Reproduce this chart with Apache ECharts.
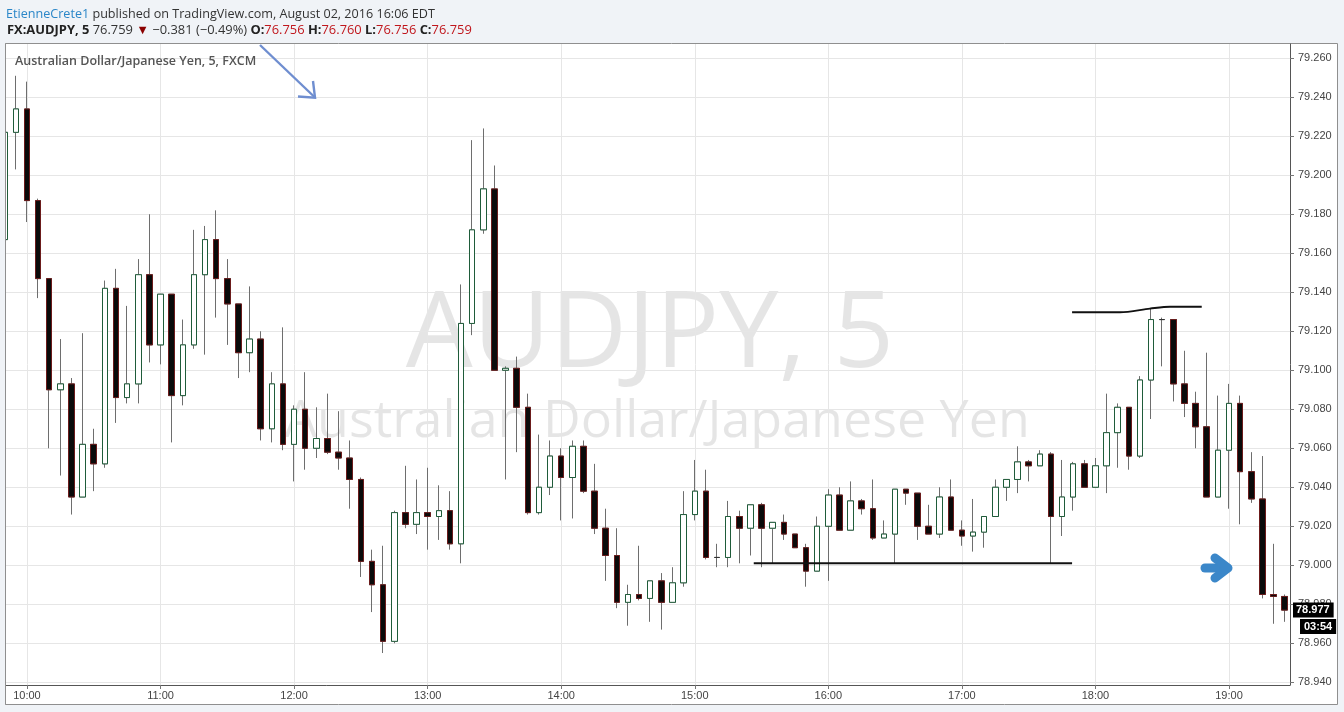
<!DOCTYPE html>
<html><head><meta charset="utf-8">
<script src="https://cdn.jsdelivr.net/npm/echarts@6/dist/echarts.min.js"></script>
<style>html,body{margin:0;padding:0;background:#f0f3f7;}#c{width:1344px;height:712px;}</style>
</head><body><div id="c"></div>
<script>
// ---- data (AUDJPY 5-minute candles) ----
const times = ['9:50','9:55',
'10:00','10:05','10:10','10:15','10:20','10:25','10:30','10:35','10:40','10:45','10:50','10:55',
'11:00','11:05','11:10','11:15','11:20','11:25','11:30','11:35','11:40','11:45','11:50','11:55',
'12:00','12:05','12:10','12:15','12:20','12:25','12:30','12:35','12:40','12:45','12:50','12:55',
'13:00','13:05','13:10','13:15','13:20','13:25','13:30','13:35','13:40','13:45','13:50','13:55',
'14:00','14:05','14:10','14:15','14:20','14:25','14:30','14:35','14:40','14:45','14:50','14:55',
'15:00','15:05','15:10','15:15','15:20','15:25','15:30','15:35','15:40','15:45','15:50','15:55',
'16:00','16:05','16:10','16:15','16:20','16:25','16:30','16:35','16:40','16:45','16:50','16:55',
'17:00','17:05','17:10','17:15','17:20','17:25','17:30','17:35','17:40','17:45','17:50','17:55',
'18:00','18:05','18:10','18:15','18:20','18:25','18:30','18:35','18:40','18:45','18:50','18:55',
'19:00','19:05','19:10','19:15','19:20','19:25'];
const opens = [79.167,79.222,
79.234,79.187,79.147,79.090,79.093,79.035,79.062,79.052,79.142,79.086,79.093,79.149,
79.113,79.139,79.087,79.113,79.149,79.167,79.147,79.134,79.109,79.116,79.070,79.093,
79.062,79.080,79.060,79.065,79.058,79.055,79.044,79.002,78.990,78.961,79.027,79.021,
79.027,79.025,79.028,79.011,79.124,79.172,79.193,79.100,79.101,79.081,79.027,79.040,
79.056,79.045,79.061,79.038,79.019,79.005,78.981,78.985,78.983,78.992,78.981,78.991,
79.026,79.038,79.004,79.004,79.025,79.019,79.031,79.019,79.022,79.016,79.009,78.997,
79.020,79.036,79.018,79.033,79.029,79.014,79.016,79.039,79.037,79.020,79.016,79.035,
79.018,79.015,79.017,79.025,79.040,79.044,79.053,79.051,79.057,79.025,79.035,79.052,
79.040,79.051,79.068,79.081,79.056,79.095,79.126,79.126,79.093,79.083,79.071,79.035,
79.059,79.083,79.048,79.034,78.985,78.984];
const highs = [79.225,79.251,
79.248,79.188,79.147,79.116,79.096,79.119,79.070,79.146,79.152,79.133,79.157,79.180,
79.139,79.139,79.126,79.172,79.174,79.182,79.157,79.134,79.143,79.120,79.099,79.122,
79.082,79.099,79.081,79.088,79.079,79.064,79.045,79.008,79.010,79.028,79.051,79.044,
79.050,79.041,79.038,79.144,79.218,79.224,79.205,79.102,79.107,79.088,79.067,79.064,
79.060,79.064,79.064,79.052,79.029,79.019,78.990,79.010,78.992,78.996,78.999,79.038,
79.054,79.049,79.011,79.033,79.028,79.031,79.032,79.022,79.026,79.016,79.011,79.025,
79.039,79.040,79.043,79.034,79.044,79.023,79.039,79.039,79.037,79.031,79.040,79.044,
79.023,79.034,79.025,79.044,79.044,79.061,79.054,79.059,79.058,79.054,79.053,79.054,
79.055,79.088,79.083,79.081,79.097,79.132,79.127,79.126,79.110,79.089,79.109,79.087,
79.093,79.087,79.058,79.056,79.011,78.985];
const lows = [79.163,79.203,
79.176,79.137,79.060,79.046,79.026,79.035,79.038,79.050,79.073,79.083,79.083,79.104,
79.103,79.063,79.082,79.111,79.108,79.127,79.113,79.096,79.099,79.064,79.063,79.059,
79.043,79.049,79.055,79.057,79.049,79.029,78.994,78.976,78.955,78.960,79.019,79.016,
79.008,79.013,79.008,79.001,79.118,79.170,79.100,79.044,79.058,79.026,79.026,79.036,
79.023,79.024,79.037,79.016,78.992,78.978,78.969,78.982,78.971,78.967,78.981,78.989,
79.023,79.003,78.999,78.999,79.001,79.005,78.999,79.001,79.013,79.009,78.989,78.997,
78.992,79.018,79.018,79.026,79.013,79.014,79.001,79.031,79.013,79.016,79.014,79.018,
79.010,79.007,79.009,79.025,79.033,79.037,79.043,79.051,79.001,79.015,79.028,79.040,
79.040,79.037,79.050,79.049,79.055,79.075,79.102,79.084,79.076,79.060,79.035,79.035,
79.029,79.021,79.032,78.983,78.970,78.971];
const closes = [79.222,79.234,
79.187,79.147,79.090,79.093,79.035,79.062,79.052,79.142,79.086,79.093,79.149,79.113,
79.139,79.087,79.113,79.149,79.167,79.147,79.134,79.109,79.116,79.070,79.093,79.062,
79.080,79.060,79.065,79.058,79.055,79.044,79.002,78.990,78.961,79.027,79.021,79.027,
79.025,79.028,79.011,79.124,79.172,79.193,79.100,79.101,79.081,79.027,79.040,79.056,
79.045,79.061,79.038,79.019,79.005,78.981,78.985,78.983,78.992,78.981,78.991,79.026,
79.038,79.004,79.004,79.025,79.019,79.031,79.019,79.022,79.016,79.009,78.997,79.020,
79.036,79.018,79.033,79.029,79.014,79.016,79.039,79.037,79.020,79.016,79.035,79.018,
79.015,79.017,79.025,79.040,79.044,79.053,79.051,79.057,79.025,79.035,79.052,79.040,
79.051,79.068,79.081,79.056,79.095,79.126,79.126,79.093,79.083,79.071,79.035,79.059,
79.083,79.048,79.034,78.985,78.984,78.977];
const priceTicks = [78.94,78.96,78.98,79.00,79.02,79.04,79.06,79.08,79.10,79.12,79.14,79.16,79.18,79.20,79.22,79.24,79.26];
// drawn levels (x = candle index, y = price)
const supportLine = [[67.3,79.001],[95.9,79.001]];
const resistanceLine = [[95.9,79.1297],[100.2,79.1297],[102.9,79.1316],[104.7,79.1326],[107.55,79.1326]];
const countdown = '03:54';

// ---- derived ----
const hourIdx = times.map((t,i)=>t.endsWith(':00')?i:-1).filter(i=>i>=0);
const wickData = times.map((t,i)=>[i,opens[i],closes[i],lows[i],highs[i]]);
const bodyData = times.map((t,i)=>[i,opens[i],closes[i],Math.min(opens[i],closes[i]),Math.max(opens[i],closes[i])]);
const lastClose = closes[closes.length-1];

const AX = 'Liberation Sans, Arial, sans-serif';
const chart = echarts.init(document.getElementById('c'));

function decorations(priceY){
  const g = [
    {type:'rect',z:-10,silent:true,shape:{x:5.5,y:43.5,width:1332,height:661},style:{fill:'#ffffff',stroke:'#8f8f8f',lineWidth:1}},
    {type:'rect',z:8,silent:true,shape:{x:0,y:43,width:5,height:663},style:{fill:'#f0f3f7'}},
    {type:'line',z:9,silent:true,shape:{x1:5.5,y1:43.5,x2:5.5,y2:704.5},style:{stroke:'#8f8f8f',lineWidth:1}},
    {type:'text',z:-5,silent:true,x:650,y:337,style:{text:'AUDJPY, 5',fontSize:106,fontFamily:'Open Sans',fill:'rgba(0,0,0,0.1)',align:'center',verticalAlign:'middle',textAlign:'center',textVerticalAlign:'middle'}},
    {type:'text',z:-5,silent:true,x:657,y:422,style:{text:'Australian Dollar/Japanese Yen',fontSize:52,fontFamily:'Open Sans',fill:'rgba(0,0,0,0.1)',align:'center',verticalAlign:'middle',textAlign:'center',textVerticalAlign:'middle'}},
    {type:'text',z:10,silent:true,x:15,y:61,style:{text:'Australian Dollar/Japanese Yen, 5, FXCM',fontSize:12.5,fontWeight:600,fontFamily:'Open Sans',fill:'#555',verticalAlign:'middle',textVerticalAlign:'middle'}},
    {type:'text',z:10,silent:true,x:6,y:14,style:{text:'{u|EtienneCrete1} published on TradingView.com, August 02, 2016 16:06 EDT',fontSize:12.6,fontFamily:'Open Sans',fill:'#333',verticalAlign:'middle',textVerticalAlign:'middle',
      rich:{u:{fill:'#2a86c8',color:'#2a86c8',fontSize:12.6,fontFamily:'Open Sans'}}}},
    {type:'text',z:10,silent:true,x:7,y:30,style:{text:'{b|FX:AUDJPY, 5} 76.759 {t|▼} −0.381 (−0.49%) {b|O:}{r|76.756} {b|H:}{r|76.760} {b|L:}{r|76.756} {b|C:}{r|76.759}',fontSize:12.9,fontFamily:'Open Sans',fill:'#333',verticalAlign:'middle',textVerticalAlign:'middle',
      rich:{b:{fontWeight:'bold',fill:'#222',color:'#222',fontSize:12.9,fontFamily:'Open Sans'},
            r:{fill:'#c0161c',color:'#c0161c',fontSize:12.9,fontFamily:'Open Sans'},
            t:{fill:'#8b0000',color:'#8b0000',fontSize:12.9,fontFamily:'Open Sans'}}}},
    {type:'line',z:10,silent:true,shape:{x1:260,y1:45,x2:315,y2:97.5},style:{stroke:'#6f8ed0',lineWidth:2.4}},
    {type:'polyline',z:10,silent:true,shape:{points:[[298,96.5],[315,97.7],[313,81]]},style:{stroke:'#6f8ed0',lineWidth:2.4,fill:null}},
    {type:'polyline',z:10,silent:true,shape:{points:[[1205,568],[1227,568]]},style:{stroke:'#3b87c9',lineWidth:9,lineCap:'round',fill:null}},
    {type:'polyline',z:10,silent:true,shape:{points:[[1215,558],[1228,568],[1215,578]]},style:{stroke:'#3b87c9',lineWidth:9,lineCap:'round',lineJoin:'round',fill:null}}
  ];
  if (priceY != null) {
    g.push({type:'text',z:20,silent:true,x:1293,y:priceY,style:{text:lastClose.toFixed(3),fill:'#fff',backgroundColor:'#000',fontFamily:AX,fontWeight:'bold',fontSize:11,lineHeight:12,padding:[2,4,1,3],verticalAlign:'middle',textVerticalAlign:'middle'}});
    g.push({type:'text',z:20,silent:true,x:1300,y:priceY+16.5,style:{text:countdown,fill:'#fff',backgroundColor:'#000',fontFamily:AX,fontWeight:'bold',fontSize:11,lineHeight:12,padding:[2,4,1,4],verticalAlign:'middle',textVerticalAlign:'middle'}});
  }
  return g;
}

chart.setOption({
  animation:false,
  backgroundColor:'#f0f3f7',
  grid:{left:6,right:54,top:44,bottom:27,containLabel:false,outerBoundsMode:'none'},
  xAxis:{type:'value',min:0.117,max:115.48,
    axisLine:{show:true,onZero:false,lineStyle:{color:'#555',width:1}},
    axisTick:{show:true,customValues:hourIdx,length:4,lineStyle:{color:'#777'}},
    axisLabel:{customValues:hourIdx,formatter:v=>times[Math.round(v)],color:'#444',fontSize:11,fontFamily:AX,margin:5},
    splitLine:{show:true,lineStyle:{color:'#e6e6e6',width:1}}},
  yAxis:{type:'value',position:'right',min:78.9386,max:79.2673,scale:true,
    axisLine:{show:true,lineStyle:{color:'#555',width:1}},
    axisTick:{show:true,customValues:priceTicks,length:4,lineStyle:{color:'#777'}},
    axisLabel:{customValues:priceTicks,formatter:v=>v.toFixed(3),color:'#444',fontSize:11,fontFamily:AX,margin:8},
    splitLine:{show:true,lineStyle:{color:'#e6e6e6',width:1}}},
  graphic:decorations(null),
  series:[
    {type:'candlestick',name:'wick',data:wickData,encode:{x:0,y:[1,2,3,4]},barWidth:6,silent:true,z:2,clip:true,
      emphasis:{disabled:true},
      itemStyle:{color:'#ffffff',color0:'#0a0a0a',borderColor:'#6e6e6e',borderColor0:'#6e6e6e',borderColorDoji:'#6e6e6e',borderWidth:1}},
    {type:'candlestick',name:'body',data:bodyData,encode:{x:0,y:[1,2,3,4]},barWidth:6,silent:true,z:3,clip:true,
      emphasis:{disabled:true},
      itemStyle:{color:'#ffffff',color0:'#0a0a0a',borderColor:'#1f5c3a',borderColor0:'#6b1b1b',borderColorDoji:'#333333',borderWidth:1}},
    {type:'line',name:'support',data:supportLine,showSymbol:false,silent:true,z:4,lineStyle:{color:'#111',width:2}},
    {type:'line',name:'resistance',data:resistanceLine,showSymbol:false,silent:true,smooth:0.3,z:4,lineStyle:{color:'#111',width:2}}
  ]
});
const py = chart.convertToPixel({gridIndex:0},[0,lastClose])[1];
chart.setOption({graphic:decorations(py)}, {replaceMerge:['graphic']});
</script></body></html>
